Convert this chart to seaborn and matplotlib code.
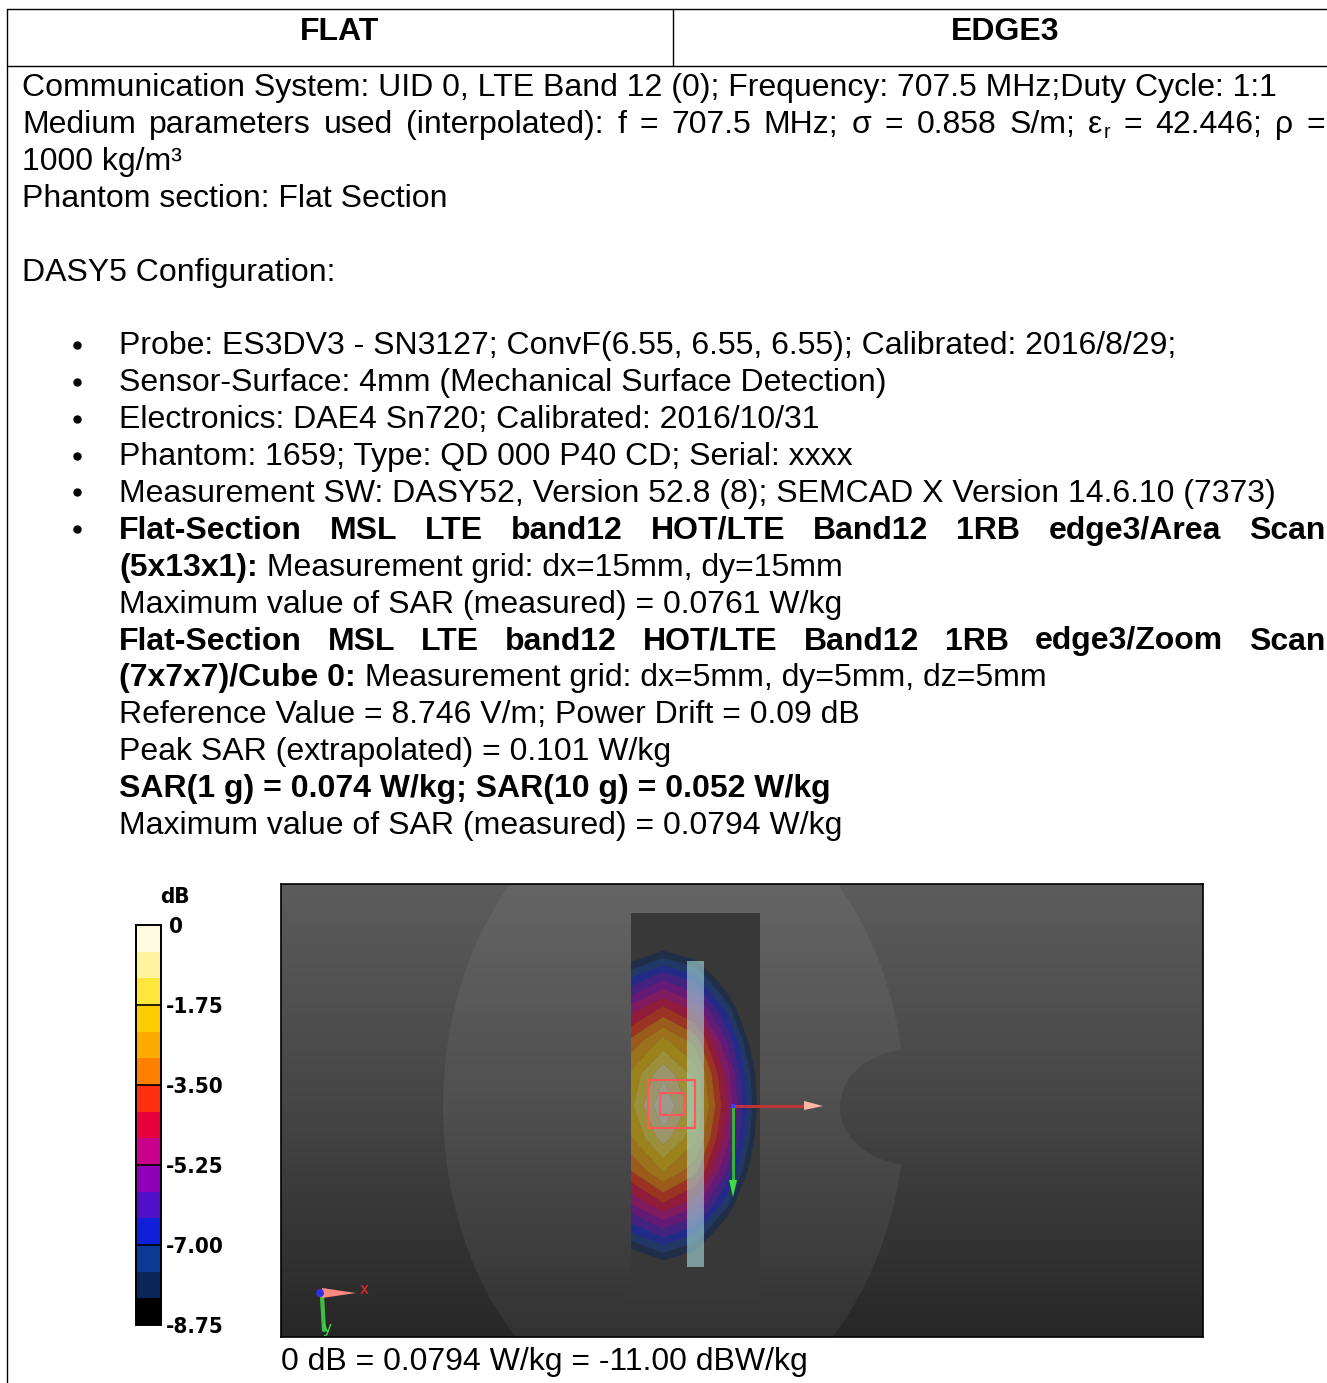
import numpy as np
import pandas as pd
import matplotlib
matplotlib.use("Agg")
import matplotlib.pyplot as plt
import seaborn as sns
from matplotlib.colors import ListedColormap, LinearSegmentedColormap
from matplotlib.patches import Ellipse, Rectangle, Polygon

# ---------------- content / data ----------------
HEADER_LEFT = "FLAT"
HEADER_RIGHT = "EDGE3"
LINE_COMM = "Communication System: UID 0, LTE Band 12 (0); Frequency: 707.5 MHz;Duty Cycle: 1:1"
LINE_MEDIUM = ["Medium", "parameters", "used", "(interpolated):", "f", "=", "707.5", "MHz;",
               "σ", "=", "0.858", "S/m;", "ε_r", "=", "42.446;", "ρ", "="]
LINE_DENSITY = "1000 kg/m³"
LINE_SECTION = "Phantom section: Flat Section"
LINE_CONFIG = "DASY5 Configuration:"
BULLETS = [
    "Probe: ES3DV3 - SN3127; ConvF(6.55, 6.55, 6.55); Calibrated: 2016/8/29;",
    "Sensor-Surface: 4mm (Mechanical Surface Detection)",
    "Electronics: DAE4 Sn720; Calibrated: 2016/10/31",
    "Phantom: 1659; Type: QD 000 P40 CD; Serial: xxxx",
    "Measurement SW: DASY52, Version 52.8 (8); SEMCAD X Version 14.6.10 (7373)",
]
AREA_TITLE = "Flat-Section MSL LTE band12 HOT/LTE Band12 1RB edge3/Area Scan"
AREA_GRID = ("(5x13x1):", " Measurement grid: dx=15mm, dy=15mm")
AREA_MAX = "Maximum value of SAR (measured) = 0.0761 W/kg"
ZOOM_TITLE = "Flat-Section MSL LTE band12 HOT/LTE Band12 1RB edge3/Zoom Scan"
ZOOM_GRID = ("(7x7x7)/Cube 0:", " Measurement grid: dx=5mm, dy=5mm, dz=5mm")
REF_VALUE = "Reference Value = 8.746 V/m; Power Drift = 0.09 dB"
PEAK_SAR = "Peak SAR (extrapolated) = 0.101 W/kg"
SAR_RESULT = "SAR(1 g) = 0.074 W/kg; SAR(10 g) = 0.052 W/kg"
ZOOM_MAX = "Maximum value of SAR (measured) = 0.0794 W/kg"
CAPTION = "0 dB = 0.0794 W/kg = -11.00 dBW/kg"

# area scan grid (5 x 13 points, 15 mm step) and SAR in dB relative to peak
SCAN_X_MM = [0, 15, 30, 45, 60]
SCAN_Y_MM = [0, 15, 30, 45, 60, 75, 90, 105, 120, 135, 150, 165, 180]
SAR_DB = [
    [-12.1, -11.3, -12.0, -13.9, -16.9],
    [-9.4, -8.6, -9.3, -11.3, -14.6],
    [-7.0, -6.0, -6.8, -9.1, -12.5],
    [-4.9, -3.9, -4.8, -7.2, -10.6],
    [-3.3, -2.1, -3.1, -5.9, -9.4],
    [-2.2, -0.7, -2.0, -5.0, -8.7],
    [-1.9, 0.0, -1.6, -4.7, -8.5],
    [-2.4, -0.9, -2.2, -5.1, -8.8],
    [-3.5, -2.3, -3.3, -6.0, -9.5],
    [-5.2, -4.1, -5.0, -7.4, -10.8],
    [-7.2, -6.3, -7.1, -9.3, -12.7],
    [-9.6, -8.7, -9.4, -11.5, -14.7],
    [-12.2, -11.4, -12.0, -14.0, -17.0],
]
DB_MIN, DB_MAX = -8.75, 0.0
DB_TICK_LABELS = ["0", "-1.75", "-3.50", "-5.25", "-7.00", "-8.75"]
# 15 colour bands from 0 dB (top) down to -8.75 dB (bottom)
DB_COLORS = ["#fffbe0", "#fff3a0", "#ffe63c",
             "#ffcc00", "#ffaa00", "#ff8000",
             "#ff3010", "#e8003c", "#c8008c",
             "#9000b8", "#5010c8", "#1020d8",
             "#0c3896", "#0a2658", "#000000"]

# ---------------- figure ----------------
W, H = 1327, 1383
sns.set_style("white")
plt.rcParams['font.family'] = ['Liberation Sans', 'DejaVu Sans']
BODY_FONT = ['Liberation Sans', 'DejaVu Sans']

fig = plt.figure(figsize=(W / 100, H / 100), dpi=100)
page = fig.add_axes([0, 0, 1, 1])
page.set_xlim(0, W)
page.set_ylim(H, 0)
page.axis('off')
renderer = fig.canvas.get_renderer()


def _w(t):
    return t.get_window_extent(renderer).width


# fit the body font size to the reference line width
_probe = page.text(0, 0, LINE_COMM, fontsize=20, family=BODY_FONT)
FS = 20 * 1252 / _w(_probe)
_probe.remove()


def draw_plain(x, y, s, weight='normal'):
    t = page.text(x, y, s, fontsize=FS, fontweight=weight, family=BODY_FONT,
                  va='baseline', ha='left', color='black')
    return _w(t), [t]


def draw_word(x, y, w, weight='normal'):
    if '_' in w:
        base, sub = w.split('_')
        w1, objs = draw_plain(x, y, base, weight)
        t = page.text(x + w1 + 1, y + 5, sub, fontsize=FS * 0.62, fontweight=weight,
                      family=BODY_FONT, va='baseline', ha='left', color='black')
        return w1 + 1 + _w(t), objs + [t]
    return draw_plain(x, y, w, weight)


def word_width(w, weight):
    wd, objs = draw_word(0, 0, w, weight)
    for o in objs:
        o.remove()
    return wd


def draw_justified(x0, x1, y, words, weight='normal'):
    widths = [word_width(w, weight) for w in words]
    gap = (x1 - x0 - sum(widths)) / (len(words) - 1)
    x = x0
    for w, wd in zip(words, widths):
        draw_word(x, y, w, weight)
        x += wd + gap


def draw_mixed(x, y, bold_part, normal_part):
    wb, _ = draw_plain(x, y, bold_part, 'bold')
    draw_plain(x + wb, y, normal_part, 'normal')


# table lines
LW = 1.0
page.plot([7, W], [9, 9], color='black', lw=LW)
page.plot([7, W], [66, 66], color='black', lw=LW)
page.plot([7, 7], [9, H], color='black', lw=LW)
page.plot([673, 673], [9, 66], color='black', lw=LW)

page.text(340, 40, HEADER_LEFT, fontsize=FS, fontweight='bold', ha='center', va='baseline',
          family=BODY_FONT, color='black')
page.text(1005, 40, HEADER_RIGHT, fontsize=FS, fontweight='bold', ha='center', va='baseline',
          family=BODY_FONT, color='black')

BASE0, STEP = 96, 36.9


def yl(i):
    return BASE0 + STEP * i


X0, XB, XR = 22, 119, 1325
draw_plain(X0, yl(0), LINE_COMM)
draw_justified(X0, XR, yl(1), LINE_MEDIUM)
draw_plain(X0, yl(2), LINE_DENSITY)
draw_plain(X0, yl(3), LINE_SECTION)
draw_plain(X0, yl(5), LINE_CONFIG)
for k, b in enumerate(BULLETS):
    draw_plain(XB, yl(7 + k), b)
    page.plot(77, yl(7 + k) - 9.5, 'o', ms=5, color='black')
page.plot(77, yl(12) - 9.5, 'o', ms=5, color='black')
draw_justified(XB, XR, yl(12), AREA_TITLE.split(' '), 'bold')
draw_mixed(XB, yl(13), *AREA_GRID)
draw_plain(XB, yl(14), AREA_MAX)
draw_justified(XB, XR, yl(15), ZOOM_TITLE.split(' '), 'bold')
draw_mixed(XB, yl(16), *ZOOM_GRID)
draw_plain(XB, yl(17), REF_VALUE)
draw_plain(XB, yl(18), PEAK_SAR)
draw_plain(XB, yl(19), SAR_RESULT, 'bold')
draw_plain(XB, yl(20), ZOOM_MAX)
draw_plain(281, 1370, CAPTION)

# ---------------- colour bar (seaborn heatmap) ----------------
cb_ax = fig.add_axes([136 / W, 1 - 1325 / H, 25 / W, 400 / H])
n_bands = len(DB_COLORS)
edges = np.linspace(DB_MAX, DB_MIN, n_bands + 1)
mids = (edges[:-1] + edges[1:]) / 2
band_df = pd.DataFrame({'dB': mids})
cmap = ListedColormap(DB_COLORS[::-1])
sns.heatmap(band_df, ax=cb_ax, cmap=cmap, vmin=DB_MIN, vmax=DB_MAX, cbar=False,
            xticklabels=False, yticklabels=False, linewidths=0)
for k in range(3, n_bands, 3):
    cb_ax.axhline(k, color='black', lw=1.2)
cb_ax.add_patch(Rectangle((0, 0), 1, n_bands, fill=False, edgecolor='black', lw=1.4,
                          clip_on=False))
cb_ax.set_xlabel('')
cb_ax.set_ylabel('')

LAB = dict(family='DejaVu Sans', fontstretch='condensed', fontweight='bold', fontsize=16,
           color='black', va='center', ha='left')
for k, lab in enumerate(DB_TICK_LABELS):
    page.text(166 if k else 169, 925 + 80 * k + 2, lab, **LAB)
page.text(160, 897, "dB", **LAB)

# ---------------- SAR picture ----------------
PXMM = 2.15


def mm(px, py):
    return ((px - 631) / PXMM, (py - 913) / PXMM)


def L(p):
    return p / PXMM


img = fig.add_axes([281 / W, 1 - 1337 / H, 922 / W, 453 / H])
xl, yt = mm(281, 884)
xr, yb = mm(1203, 1337)
img.set_xlim(xl, xr)
img.set_ylim(yb, yt)
img.set_xticks([])
img.set_yticks([])
for s in img.spines.values():
    s.set_visible(True)
    s.set_color('black')
    s.set_linewidth(1.2)

grad = np.linspace(0, 1, 256).reshape(-1, 1)
gcmap = LinearSegmentedColormap.from_list('bg', ['#5c5c5c', '#454545', '#272727'])
img.imshow(grad, cmap=gcmap, extent=(xl, xr, yb, yt), aspect='auto', zorder=0)

phantom = Ellipse(mm(674, 1107), L(462), L(632), facecolor='white', alpha=0.055,
                  edgecolor='none', zorder=1)
img.add_patch(phantom)
notch = Ellipse(mm(913, 1107), L(146), L(116), facecolor='none', edgecolor='none')
img.add_patch(notch)
nim = img.imshow(grad, cmap=gcmap, extent=(xl, xr, yb, yt), aspect='auto', zorder=2)
nim.set_clip_path(notch)

img.add_patch(Rectangle((SCAN_X_MM[0], SCAN_Y_MM[0]), SCAN_X_MM[-1] - SCAN_X_MM[0],
                        SCAN_Y_MM[-1] - SCAN_Y_MM[0], facecolor='#383838',
                        edgecolor='none', zorder=3))

levels = list(np.linspace(DB_MIN, DB_MAX, n_bands + 1))
levels[-1] = 0.05
img.contourf(SCAN_X_MM, SCAN_Y_MM, np.array(SAR_DB), levels=levels[1:],
             colors=DB_COLORS[::-1][1:], alpha=0.5, zorder=4, antialiased=True)

# probe bar
bx, by = mm(687, 961)
img.add_patch(Rectangle((bx, by), L(17), L(306), facecolor='#a8dcdc', alpha=0.6,
                        edgecolor='none', zorder=5))
# zoom-scan squares
ox, oy = mm(648, 1080)
img.add_patch(Rectangle((ox, oy), L(47), L(48), fill=False, edgecolor='#ff5a5a', lw=1.6,
                        zorder=6))
ix, iy = mm(660, 1093)
img.add_patch(Rectangle((ix, iy), L(24), L(22), fill=False, edgecolor='#ff5a5a', lw=1.6,
                        zorder=6))

# coordinate arrows
img.plot(*zip(mm(733, 1106), mm(806, 1106)), color='#c83232', lw=2, zorder=7)
img.add_patch(Polygon([mm(804, 1101), mm(823, 1106), mm(804, 1110)], closed=True,
                      facecolor='#ffb8a8', edgecolor='none', zorder=8))
img.plot(*zip(mm(733, 1106), mm(733, 1182)), color='#30c030', lw=2, zorder=7)
img.add_patch(Polygon([mm(729, 1180), mm(733, 1197), mm(737, 1180)], closed=True,
                      facecolor='#40e040', edgecolor='none', zorder=8))
img.add_patch(Rectangle(mm(731, 1104), L(4), L(4), facecolor='#3040ff', edgecolor='none',
                        zorder=9))

# axis triad
img.plot(*zip(mm(322, 1296), mm(324, 1330)), color='#40c040', lw=3, zorder=7)
img.add_patch(Polygon([mm(322, 1288), mm(356, 1293), mm(322, 1298)], closed=True,
                      facecolor='#ff8a80', edgecolor='none', zorder=8))
img.add_patch(Ellipse(mm(320, 1293), L(8), L(8), facecolor='#3030e0', edgecolor='none',
                      zorder=9))
img.text(*mm(364, 1290), 'x', color='#ff2020', fontsize=11, ha='center', va='center',
         family='DejaVu Sans', zorder=9)
img.text(*mm(327, 1328), 'y', color='#40e040', fontsize=11, ha='center', va='center',
         family='DejaVu Sans', zorder=9)

fig.savefig('out.png', dpi=100)
